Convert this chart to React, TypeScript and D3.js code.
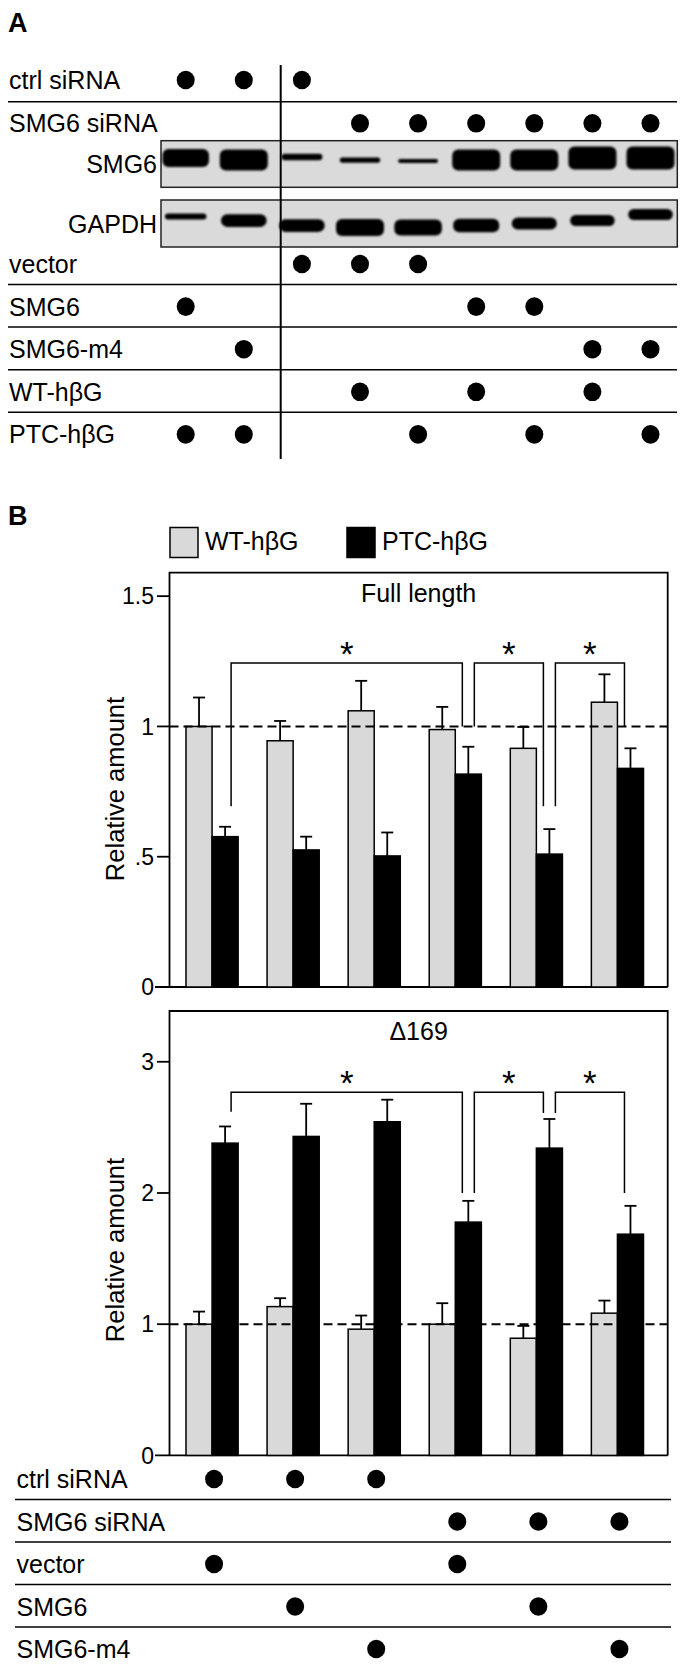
import React from "react";
import * as d3 from "d3";

const FONT = "'Liberation Sans', Arial, Helvetica, sans-serif";

// ---- panel A: transfection table (lane indices 0..8) ----
const laneCount = 9;
const ctrlSiRNALanes = [0, 1, 2];
const smg6SiRNALanes = [3, 4, 5, 6, 7, 8];
const vectorLanes = [2, 3, 4];
const smg6Lanes = [0, 5, 6];
const smg6m4Lanes = [1, 7, 8];
const wtLanes = [3, 5, 7];
const ptcLanes = [0, 1, 4, 6, 8];

// western blot band intensities (relative)
const smg6BandIntensity = [0.85, 1.0, 0.3, 0.25, 0.2, 1.0, 1.0, 1.1, 1.1];
const smg6BandShift = [-6, -4, -7, -4, -3, -4, -4, -6, -6];
const gapdhBandIntensity = [0.35, 0.75, 0.75, 1.0, 0.95, 0.8, 0.7, 0.65, 0.65];
const gapdhBandShift = [-7, -3, 2, 4, 4, 2, 0, -3, -9];

// ---- panel B: bar data ----
const conditions = [
  "ctrl/vector",
  "ctrl/SMG6",
  "ctrl/SMG6-m4",
  "SMG6si/vector",
  "SMG6si/SMG6",
  "SMG6si/SMG6-m4",
];
const seriesKeys = ["WT-hβG", "PTC-hβG"];

const fullWT = [1.0, 0.945, 1.06, 0.988, 0.916, 1.093];
const fullWTErr = [0.111, 0.076, 0.115, 0.087, 0.082, 0.107];
const fullPTC = [0.577, 0.526, 0.503, 0.817, 0.51, 0.839];
const fullPTCErr = [0.038, 0.051, 0.09, 0.105, 0.096, 0.077];

const d169WT = [1.0, 1.134, 0.962, 1.0, 0.893, 1.084];
const d169WTErr = [0.096, 0.064, 0.104, 0.16, 0.094, 0.096];
const d169PTC = [2.38, 2.431, 2.543, 1.778, 2.342, 1.686];
const d169PTCErr = [0.127, 0.249, 0.168, 0.162, 0.222, 0.216];

const fullTicks = [0, 0.5, 1, 1.5];
const fullTickLabels = ["0", ".5", "1", "1.5"];
const d169Ticks = [0, 1, 2, 3];
const d169TickLabels = ["0", "1", "2", "3"];

// significance brackets: [fromGroup, toGroup, fromLegEnd, toLegEnd, barTop]
const fullBrackets = [
  [0, 3, 0.694, 1.0, 1.243],
  [3, 4, 1.0, 0.694, 1.243],
  [4, 5, 0.694, 1.0, 1.243],
];
const d169Brackets = [
  [0, 3, 2.62, 2.0, 2.767],
  [3, 4, 2.0, 2.61, 2.767],
  [4, 5, 2.61, 2.0, 2.767],
];

// ---- panel B: condition table (group indices 0..5) ----
const bCtrlSiRNA = [0, 1, 2];
const bSmg6SiRNA = [3, 4, 5];
const bVector = [0, 3];
const bSmg6 = [1, 4];
const bSmg6m4 = [2, 5];

const GRAY = "#d9d9d9";
const frameL = 169.5;
const frameR = 667.7;
const LABEL_SIZE = 25;

const laneX = d3
  .scalePoint<number>()
  .domain(d3.range(laneCount))
  .range([185.7, 650.5]);

const groupX = d3
  .scaleBand<string>()
  .domain(conditions)
  .range([186, 643.5])
  .paddingInner(0.357);
const subX = d3
  .scaleBand<string>()
  .domain(seriesKeys)
  .range([0, groupX.bandwidth()]);

const yFull = d3.scaleLinear().domain([0, 1.59]).range([987, 572.7]);
const yD169 = d3.scaleLinear().domain([0, 3.387]).range([1455.4, 1011]);

const Dot = ({ x, y }: { x: number; y: number }) => (
  <ellipse cx={x} cy={y} rx={9} ry={9.3} fill="#000" />
);

const Row = ({
  label,
  y,
  x0,
  lanes,
  xOf,
}: {
  label: string;
  y: number;
  x0: number;
  lanes: number[];
  xOf: (i: number) => number;
}) => (
  <g>
    <text x={x0} y={y + 9} fontSize={LABEL_SIZE} fontFamily={FONT}>
      {label}
    </text>
    {lanes.map((i) => (
      <Dot key={i} x={xOf(i)} y={y} />
    ))}
  </g>
);

const Blot = ({
  y0,
  y1,
  label,
  intensity,
  shift,
  maxT,
}: {
  y0: number;
  y1: number;
  label: string;
  intensity: number[];
  shift: number[];
  maxT: number;
}) => {
  const cy = (y0 + y1) / 2;
  const t = d3.scaleLinear().domain([0, 1]).range([0, maxT]);
  return (
    <g>
      <rect
        x={161}
        y={y0}
        width={677.3 - 161}
        height={y1 - y0}
        fill="#dadada"
        stroke="#222"
        strokeWidth={1.5}
      />
      <g filter="url(#blur)">
        {intensity.map((v, i) => {
          const h = Math.max(3, t(v));
          const w = 38 + 10 * Math.min(v, 1);
          return (
            <rect
              key={i}
              x={laneX(i)! - w / 2}
              y={cy + shift[i] - h / 2}
              width={w}
              height={h}
              rx={Math.min(h / 2, 6)}
              fill="#050505"
            />
          );
        })}
      </g>
      <text
        x={157}
        y={cy + 9}
        textAnchor="end"
        fontSize={LABEL_SIZE}
        fontFamily={FONT}
      >
        {label}
      </text>
    </g>
  );
};

const BarPanel = ({
  y,
  top,
  title,
  wt,
  wtErr,
  ptc,
  ptcErr,
  ticks,
  tickLabels,
  brackets,
  labelY,
}: {
  y: d3.ScaleLinear<number, number>;
  top: number;
  title: string;
  wt: number[];
  wtErr: number[];
  ptc: number[];
  ptcErr: number[];
  ticks: number[];
  tickLabels: string[];
  brackets: number[][];
  labelY: number;
}) => {
  const y0 = y(0);
  const bw = subX.bandwidth();
  const blackCenter = (g: number) =>
    groupX(conditions[g])! + subX(seriesKeys[1])! + bw / 2;
  const series = [
    { key: seriesKeys[0], vals: wt, errs: wtErr, fill: GRAY },
    { key: seriesKeys[1], vals: ptc, errs: ptcErr, fill: "#000" },
  ];
  return (
    <g>
      {/* frame */}
      <path
        d={`M${frameL},${y0}V${top}H${frameR}V${y0}`}
        fill="none"
        stroke="#000"
        strokeWidth={1.8}
      />
      <line
        x1={155}
        x2={frameR}
        y1={y0}
        y2={y0}
        stroke="#000"
        strokeWidth={1.8}
      />
      {ticks.map((tk, i) => (
        <g key={tk}>
          {tk !== 0 && (
            <line
              x1={157}
              x2={frameL}
              y1={y(tk)}
              y2={y(tk)}
              stroke="#000"
              strokeWidth={1.8}
            />
          )}
          <text
            x={154}
            y={y(tk) + 8.3}
            textAnchor="end"
            fontSize={23}
            fontFamily={FONT}
          >
            {tickLabels[i]}
          </text>
        </g>
      ))}
      <text
        x={(frameL + frameR) / 2}
        y={top + 29}
        textAnchor="middle"
        fontSize={LABEL_SIZE}
        fontFamily={FONT}
      >
        {title}
      </text>
      <text
        transform={`translate(124,${labelY}) rotate(-90)`}
        textAnchor="middle"
        fontSize={25.5}
        fontFamily={FONT}
      >
        Relative amount
      </text>
      {/* bars */}
      {series.map((s) =>
        s.vals.map((v, g) => {
          const x = groupX(conditions[g])! + subX(s.key)!;
          const cx = x + bw / 2;
          return (
            <g key={s.key + g}>
              <rect
                x={x}
                y={y(v)}
                width={bw}
                height={y0 - y(v)}
                fill={s.fill}
                stroke="#000"
                strokeWidth={1.5}
              />
              <line
                x1={cx}
                x2={cx}
                y1={y(v)}
                y2={y(v + s.errs[g])}
                stroke="#000"
                strokeWidth={1.8}
              />
              <line
                x1={cx - 6}
                x2={cx + 6}
                y1={y(v + s.errs[g])}
                y2={y(v + s.errs[g])}
                stroke="#000"
                strokeWidth={1.8}
              />
            </g>
          );
        })
      )}
      {/* reference line at 1 */}
      <line
        x1={frameL}
        x2={frameR}
        y1={y(1)}
        y2={y(1)}
        stroke="#000"
        strokeWidth={2}
        strokeDasharray="9 5"
      />
      {/* brackets */}
      {brackets.map(([a, b, ea, eb, bt], i) => {
        const xa = blackCenter(a) + 6;
        const xb = blackCenter(b) - 6;
        return (
          <g key={i}>
            <path
              d={`M${xa},${y(ea)}V${y(bt)}H${xb}V${y(eb)}`}
              fill="none"
              stroke="#000"
              strokeWidth={1.5}
            />
            <text
              x={(xa + xb) / 2}
              y={y(bt) + 3}
              textAnchor="middle"
              fontSize={35}
              fontWeight={300}
              fontFamily={FONT}
            >
              *
            </text>
          </g>
        );
      })}
    </g>
  );
};

export default function App() {
  const aRows = [
    { label: "vector", lanes: vectorLanes },
    { label: "SMG6", lanes: smg6Lanes },
    { label: "SMG6-m4", lanes: smg6m4Lanes },
    { label: "WT-hβG", lanes: wtLanes },
    { label: "PTC-hβG", lanes: ptcLanes },
  ];
  const bRows = [
    { label: "ctrl siRNA", lanes: bCtrlSiRNA },
    { label: "SMG6 siRNA", lanes: bSmg6SiRNA },
    { label: "vector", lanes: bVector },
    { label: "SMG6", lanes: bSmg6 },
    { label: "SMG6-m4", lanes: bSmg6m4 },
  ];
  const lane = (i: number) => laneX(i)!;
  const grp = (i: number) => groupX(conditions[i])! + groupX.bandwidth() / 2 + 2;
  const aRowY0 = 264;
  const aPitch = 42.6;
  const bRowY0 = 1479;
  const bPitch = 42.5;

  return (
    <svg
      width={686}
      height={1667}
      style={{ position: "absolute", left: 0, top: 0, background: "#fff" }}
    >
      <defs>
        <filter id="blur" x="-20%" y="-50%" width="140%" height="200%">
          <feGaussianBlur stdDeviation={1.3} />
        </filter>
      </defs>
      <rect width={686} height={1667} fill="#fff" />

      {/* ===== Panel A ===== */}
      <text x={8} y={32} fontSize={27} fontWeight="bold" fontFamily={FONT}>
        A
      </text>
      <Row label="ctrl siRNA" y={80} x0={9} lanes={ctrlSiRNALanes} xOf={lane} />
      <line x1={8} x2={677} y1={101.7} y2={101.7} stroke="#000" strokeWidth={1.5} />
      <Row label="SMG6 siRNA" y={123.3} x0={9} lanes={smg6SiRNALanes} xOf={lane} />
      <Blot
        y0={140.7}
        y1={187.3}
        label="SMG6"
        intensity={smg6BandIntensity}
        shift={smg6BandShift}
        maxT={21}
      />
      <Blot
        y0={200}
        y1={247}
        label="GAPDH"
        intensity={gapdhBandIntensity}
        shift={gapdhBandShift}
        maxT={17}
      />
      {aRows.map((r, i) => (
        <g key={r.label}>
          <Row label={r.label} y={aRowY0 + i * aPitch} x0={9} lanes={r.lanes} xOf={lane} />
          {i < aRows.length - 1 && (
            <line
              x1={8}
              x2={677}
              y1={aRowY0 + i * aPitch + 20.5}
              y2={aRowY0 + i * aPitch + 20.5}
              stroke="#000"
              strokeWidth={1.5}
            />
          )}
        </g>
      ))}
      <line x1={280.7} x2={280.7} y1={65} y2={459} stroke="#000" strokeWidth={2} />

      {/* ===== Panel B ===== */}
      <text x={8} y={525} fontSize={27} fontWeight="bold" fontFamily={FONT}>
        B
      </text>
      <rect x={170} y={527.5} width={28} height={30} fill={GRAY} stroke="#000" strokeWidth={1.5} />
      <text x={205} y={549.5} fontSize={LABEL_SIZE} fontFamily={FONT}>
        {seriesKeys[0]}
      </text>
      <rect x={347} y={527.5} width={28} height={30} fill="#000" stroke="#000" strokeWidth={1.5} />
      <text x={382} y={549.5} fontSize={LABEL_SIZE} fontFamily={FONT}>
        {seriesKeys[1]}
      </text>

      <BarPanel
        y={yFull}
        top={572.7}
        title="Full length"
        wt={fullWT}
        wtErr={fullWTErr}
        ptc={fullPTC}
        ptcErr={fullPTCErr}
        ticks={fullTicks}
        tickLabels={fullTickLabels}
        brackets={fullBrackets}
        labelY={789}
      />
      <BarPanel
        y={yD169}
        top={1011}
        title="Δ169"
        wt={d169WT}
        wtErr={d169WTErr}
        ptc={d169PTC}
        ptcErr={d169PTCErr}
        ticks={d169Ticks}
        tickLabels={d169TickLabels}
        brackets={d169Brackets}
        labelY={1250}
      />

      {bRows.map((r, i) => (
        <g key={r.label}>
          <Row label={r.label} y={bRowY0 + i * bPitch} x0={16.5} lanes={r.lanes} xOf={grp} />
          {i < bRows.length - 1 && (
            <line
              x1={15}
              x2={671}
              y1={bRowY0 + i * bPitch + 20.5}
              y2={bRowY0 + i * bPitch + 20.5}
              stroke="#000"
              strokeWidth={1.5}
            />
          )}
        </g>
      ))}
    </svg>
  );
}
